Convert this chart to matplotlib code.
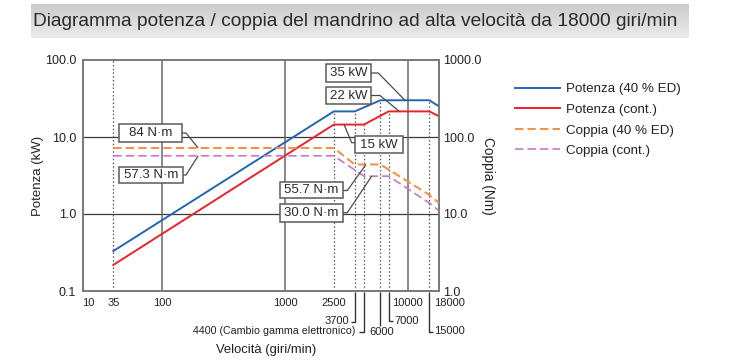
import numpy as np
import matplotlib
matplotlib.use('Agg')
import matplotlib.pyplot as plt
from matplotlib.lines import Line2D
from matplotlib.patches import Rectangle
from matplotlib.ticker import FixedLocator, FixedFormatter, NullLocator
from matplotlib.transforms import ScaledTranslation
from matplotlib.colors import LinearSegmentedColormap

W, H = 733, 362

# ---------------- data ----------------
speed_p40 = [35, 2500, 3700, 6000, 15000, 18000]
power_p40 = [0.33, 21.5, 21.5, 30.0, 30.0, 25.0]
speed_pc = [35, 2500, 4400, 7000, 15000, 18000]
power_pc = [0.218, 14.5, 14.5, 21.5, 21.5, 18.6]
speed_t40 = [35, 2500, 3700, 6000, 15000, 18000]
torque_t40 = [72, 72, 44, 44, 17.7, 13.9]
speed_tc = [35, 2500, 4400, 7000, 15000, 18000]
torque_tc = [57, 57, 31, 31, 13.9, 11.0]

legend_labels = ['Potenza (40 % ED)', 'Potenza (cont.)', 'Coppia (40 % ED)', 'Coppia (cont.)']
x_ticks = [10, 35, 100, 1000, 2500, 10000, 18000]
x_tick_labels = ['10', '35', '100', '1000', '2500', '10000', '18000']
y_left_ticks = [0.1, 1, 10, 100]
y_left_labels = ['0.1', '1.0', '10.0', '100.0']
y_right_ticks = [1, 10, 100, 1000]
y_right_labels = ['1.0', '10.0', '100.0', '1000.0']
box_labels = ['35 kW', '22 kW', '15 kW', '84 N·m', '57.3 N·m', '55.7 N·m', '30.0 N·m']
title = 'Diagramma potenza / coppia del mandrino ad alta velocità da 18000 giri/min'

colors = ['#2266b3', '#e8232b', '#f4914a', '#c07ac6']

SANS = 'Liberation Sans'
plt.rcParams['font.family'] = [SANS, 'DejaVu Sans']

# schematic speed axis: log, but compressed below 100 rpm
LOGK = np.array([0.0, 1.0, np.log10(35), 2.0, 5.0])
PXK = np.array([88.0 - 46.5, 88.0, 113.3, 162.3, 162.3 + 3 * 122.7])

def fwd(x):
    x = np.asarray(x, dtype=float)
    lx = np.log10(np.clip(x, 1e-3, None))
    return np.interp(lx, LOGK, PXK)

def inv(p):
    p = np.asarray(p, dtype=float)
    return 10 ** np.interp(p, PXK, LOGK)

fig = plt.figure(figsize=(W / 100, H / 100), dpi=100)
fig.patch.set_facecolor('white')

# title band
band = fig.add_axes([30.7 / W, 1 - 38 / H, (688 - 30.7) / W, 34 / H])
grad = np.linspace(0, 1, 64).reshape(-1, 1)
cm = LinearSegmentedColormap.from_list('g', ['#cbcbcb', '#ececec'])
band.imshow(grad, aspect='auto', cmap=cm, extent=[0, 1, 0, 1])
band.set_axis_off()
fig.text(33 / W, 1 - 22 / H, title, fontsize=13.75,
         color='#2a2a2a', va='center', ha='left', zorder=5)

# main axes
ax = fig.add_axes([83.3 / W, (H - 291) / H, (439 - 83.3) / W, (291 - 60) / H])
ax.set_xscale('function', functions=(fwd, inv))
ax.set_yscale('log')
ax.set_xlim(float(inv(83.3)), 18000)
ax.set_ylim(0.1, 100)

spine_c = '#7a7a7a'
for s in ax.spines.values():
    s.set_color(spine_c)
    s.set_linewidth(1.3)

ax.xaxis.set_major_locator(FixedLocator(x_ticks))
ax.xaxis.set_major_formatter(FixedFormatter(x_tick_labels))
ax.xaxis.set_minor_locator(NullLocator())
ax.yaxis.set_major_locator(FixedLocator(y_left_ticks))
ax.yaxis.set_major_formatter(FixedFormatter(y_left_labels))
ax.yaxis.set_minor_locator(NullLocator())
ax.tick_params(axis='x', length=0, pad=5, labelsize=8, labelcolor='#222')
ax.tick_params(axis='y', length=0, pad=5, labelsize=9, labelcolor='#222')

# shift the 18000 label off its line, as in the reference
xt = ax.xaxis.get_major_ticks()
xt[-1].label1.set_transform(xt[-1].label1.get_transform() +
                            ScaledTranslation(11 / 100, 0, fig.dpi_scale_trans))

# grid lines
for yv in (1, 10):
    ax.axhline(yv, color='#3a3a3a', lw=0.9, zorder=1)
for xv in (100, 1000, 10000):
    ax.axvline(xv, color='#6a6a6a', lw=1.1, zorder=1)

dot = (0, (1.2, 1.8))
ax.axvline(35, color='#555555', lw=0.9, ls=dot, zorder=1)
marks = [(2500, power_p40[1]), (3700, power_p40[2]), (4400, power_pc[2]),
         (6000, power_p40[3]), (7000, power_pc[3]), (15000, power_p40[4])]
for xv, top in marks:
    ax.vlines(xv, 0.1, top, color='#555555', lw=0.9, linestyles=[dot], zorder=1)

l1, = ax.plot(speed_p40, power_p40, color=colors[0], lw=1.4, zorder=3)
l2, = ax.plot(speed_pc, power_pc, color=colors[1], lw=1.4, zorder=3)

ax2 = ax.twinx()
ax2.set_yscale('log')
ax2.set_ylim(1, 1000)
for s in ax2.spines.values():
    s.set_color(spine_c)
    s.set_linewidth(1.3)
ax2.yaxis.set_major_locator(FixedLocator(y_right_ticks))
ax2.yaxis.set_major_formatter(FixedFormatter(y_right_labels))
ax2.yaxis.set_minor_locator(NullLocator())
ax2.tick_params(axis='y', length=0, pad=3, labelsize=9, labelcolor='#222')
l3, = ax2.plot(speed_t40, torque_t40, color=colors[2], lw=1.5, ls=(0, (4, 2)), zorder=3)
l4, = ax2.plot(speed_tc, torque_tc, color=colors[3], lw=1.2, ls=(0, (5, 2.5)), zorder=3)

ax.set_ylabel('Potenza (kW)', fontsize=9.5, color='#222', va='center')
ax.yaxis.set_label_coords(-(83.3 - 38) / (439 - 83.3), 0.5)
ax2.set_ylabel('Coppia (Nm)', fontsize=9.8, color='#222', rotation=270, va='center')
ax2.yaxis.set_label_coords((488 - 83.3) / (439 - 83.3), 0.5)
fig.text(266 / W, 1 - 350 / H, 'Velocità (giri/min)', fontsize=9.4, color='#222',
         ha='center', va='center')

# legend
fig.legend([l1, l2, l3, l4], legend_labels, loc='upper left',
           bbox_to_anchor=(515 / W, 1 - 83 / H), frameon=False, fontsize=9.6,
           handlelength=3.35, handletextpad=0.5, labelspacing=0.62,
           borderpad=0, borderaxespad=0, labelcolor='#222')

# helpers in pixel space (origin top-left)
def dpx(axis, x, y):
    X, Y = axis.transData.transform((x, y))
    return X, H - Y

def fline(xs, ys, color='#4a4a4a', lw=0.9, z=6):
    fx = [x / W for x in xs]
    fy = [1 - y / H for y in ys]
    fig.add_artist(Line2D(fx, fy, transform=fig.transFigure, color=color, lw=lw,
                          zorder=z, solid_capstyle='butt'))

def fbox(x0, y0, x1, y1, text, fs=9.5):
    fig.add_artist(Rectangle((x0 / W, 1 - y1 / H), (x1 - x0) / W, (y1 - y0) / H,
                             transform=fig.transFigure, fc='white', ec='#5a5a5a',
                             lw=1.1, zorder=7))
    fig.text((x0 + x1) / 2 / W, 1 - ((y0 + y1) / 2 + 0.3) / H, text, fontsize=fs,
             ha='center', va='center', color='#2a2a2a', zorder=8)

# annotation boxes with leaders
p = dpx(ax, 9500, power_p40[3]); fline([370.7, 378.3, p[0]], [73, 73, p[1]])
p = dpx(ax, 8550, power_pc[3]); fline([370.7, 380, p[0]], [95.5, 95.5, p[1]])
p = dpx(ax, 3030, power_pc[1]); fline([355, 351.7, p[0]], [142.7, 142.7, p[1]])
p = dpx(ax2, 196, torque_t40[0]); fline([181.7, 186, p[0]], [133, 133, p[1]])
p = dpx(ax2, 196, torque_tc[0]); fline([183.3, 186, p[0]], [175, 175, p[1]])
p = dpx(ax2, 4570, torque_t40[2]); fline([342.7, 347.3, p[0]], [190.5, 190.5, p[1]])
p = dpx(ax2, 5090, torque_tc[2]); fline([342.7, 347.3, p[0]], [212.7, 212.7, p[1]])

fbox(326, 64.3, 370.7, 81.7, box_labels[0])
fbox(326, 86.7, 370.7, 104.3, box_labels[1])
fbox(355, 136, 403.3, 153.3, box_labels[2])
fbox(119.3, 124, 181.7, 141.7, box_labels[3])
fbox(119.3, 166.7, 183.3, 183.3, box_labels[4])
fbox(280, 181.7, 342.7, 198.3, box_labels[5])
fbox(280, 204, 342.7, 221.7, box_labels[6])

# labels for the extra speeds below the axis
fs_b = 8
x37 = dpx(ax, 3700, 1)[0]
fline([x37, x37, x37 - 4], [292, 321.5, 321.5], color='#333', lw=1.0)
fig.text((x37 - 6) / W, 1 - 320.5 / H, '3700', fontsize=fs_b,
         ha='right', va='center', color='#222')
x44 = dpx(ax, 4400, 1)[0]
fline([x44, x44, x44 - 5], [292, 331.5, 331.5], color='#333', lw=1.0)
fig.text((x44 - 9) / W, 1 - 331 / H, '4400 (Cambio gamma elettronico)', fontsize=7.7,
         ha='right', va='center', color='#222')
x60 = dpx(ax, 6000, 1)[0]
fline([x60, x60], [292, 326], color='#333', lw=1.0)
fig.text((x60 + 1) / W, 1 - 332 / H, '6000', fontsize=fs_b,
         ha='center', va='center', color='#222')
x70 = dpx(ax, 7000, 1)[0]
fline([x70, x70, x70 + 4.5], [292, 320.5, 320.5], color='#333', lw=1.0)
fig.text((x70 + 5.5) / W, 1 - 320.5 / H, '7000', fontsize=fs_b,
         ha='left', va='center', color='#222')
x150 = dpx(ax, 15000, 1)[0]
fline([x150, x150, x150 + 3.5], [292, 331.5, 331.5], color='#333', lw=1.0)
fig.text((x150 + 4.5) / W, 1 - 331 / H, '15000', fontsize=fs_b,
         ha='left', va='center', color='#222')

fig.savefig('out.png', dpi=100, facecolor='white')
